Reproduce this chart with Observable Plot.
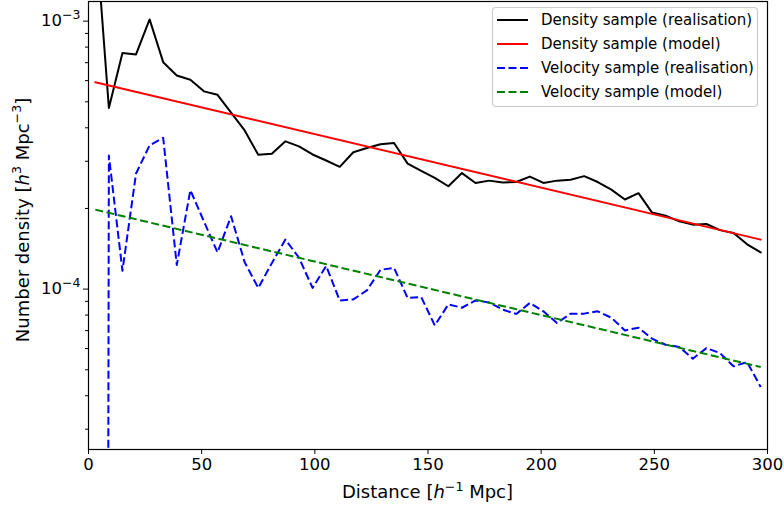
<!DOCTYPE html>
<html><head><meta charset="utf-8">
<script src="https://cdn.jsdelivr.net/npm/d3@7"></script>
<script src="https://cdn.jsdelivr.net/npm/@observablehq/plot@0.6"></script>
<style>
body{margin:0;background:#fff;}
#wrap{position:relative;width:784px;height:508px;font-family:"DejaVu Sans",sans-serif;}
#wrap svg{display:block;}
</style></head><body><div id="wrap"></div>
<script>
// ---- data ----
const distance = [3,9,15,21,27,33,39,45,51,57,63,69,75,81,87,93,99,105,111,117,123,129,135,141,147,153,159,165,171,177,183,189,195,201,207,213,219,225,231,237,243,249,255,261,267,273,279,285,291,297];
const densityRealisation = [2.26e-3,4.74e-4,7.60e-4,7.51e-4,1.015e-3,7.03e-4,6.27e-4,6.04e-4,5.47e-4,5.31e-4,4.56e-4,3.91e-4,3.17e-4,3.20e-4,3.56e-4,3.41e-4,3.18e-4,3.02e-4,2.86e-4,3.24e-4,3.36e-4,3.47e-4,3.51e-4,2.94e-4,2.76e-4,2.60e-4,2.42e-4,2.71e-4,2.49e-4,2.54e-4,2.50e-4,2.51e-4,2.63e-4,2.49e-4,2.54e-4,2.56e-4,2.64e-4,2.51e-4,2.35e-4,2.16e-4,2.28e-4,1.93e-4,1.88e-4,1.79e-4,1.74e-4,1.75e-4,1.66e-4,1.62e-4,1.47e-4,1.37e-4];
// first velocity bin is empty (zero) — shown as a tiny value on the log axis
const velocityRealisation = [1e-30,3.15e-4,1.17e-4,2.70e-4,3.44e-4,3.67e-4,1.23e-4,2.34e-4,1.79e-4,1.37e-4,1.87e-4,1.26e-4,1.01e-4,1.25e-4,1.53e-4,1.31e-4,1.01e-4,1.22e-4,9.07e-5,9.15e-5,9.89e-5,1.18e-4,1.20e-4,9.26e-5,9.34e-5,7.32e-5,8.77e-5,8.52e-5,9.07e-5,8.92e-5,8.38e-5,8.08e-5,8.88e-5,8.26e-5,7.47e-5,8.10e-5,8.10e-5,8.26e-5,7.82e-5,7.01e-5,7.18e-5,6.53e-5,6.20e-5,6.08e-5,5.50e-5,6.02e-5,5.77e-5,5.15e-5,5.34e-5,4.31e-5];
const modelDistance = [3, 297];
const densityModel = [5.92e-4, 1.53e-4];
const velocityModel = [1.98e-4, 5.12e-5];

const seriesNames = ["Density sample (realisation)","Density sample (model)","Velocity sample (realisation)","Velocity sample (model)"];
const seriesColors = ["black","red","blue","green"];
const seriesDashed = [false,false,true,true];

const xTicks = [0,50,100,150,200,250,300];
const yMajor = [1e-4, 1e-3];
const yMajorLabels = ["10^\u22124", "10^\u22123"];
const yMinor = [3e-5,4e-5,5e-5,6e-5,7e-5,8e-5,9e-5,2e-4,3e-4,4e-4,5e-4,6e-4,7e-4,8e-4,9e-4];

const TICK_FS = 16.5, LABEL_FS = 18, LEGEND_FS = 15;

// ---- build tables ----
const toRows = (xs, ys) => xs.map((x, i) => ({x, y: ys[i]}));
const seriesData = [
  toRows(distance, densityRealisation),
  toRows(modelDistance, densityModel),
  toRows(distance, velocityRealisation),
  toRows(modelDistance, velocityModel)
];
const DASH = "8,3.5";

const lineMarks = seriesData.map((rows, i) => Plot.line(rows, {
  x: "x", y: "y", stroke: seriesColors[i], strokeWidth: 2,
  strokeDasharray: seriesDashed[i] ? DASH : null,
  strokeLinecap: seriesDashed[i] ? "butt" : "round",
  strokeLinejoin: "round", clip: true
}));

const chart = Plot.plot({
  width: 784, height: 508,
  marginLeft: 88, marginRight: 17, marginTop: 1, marginBottom: 59,
  style: {fontFamily: "DejaVu Sans, sans-serif", fontSize: TICK_FS + "px", color: "black", background: "white", overflow: "visible"},
  x: {domain: [0, 300]},
  y: {type: "log", domain: [2.52e-5, 1.184e-3]},
  marks: [
    ...lineMarks,
    Plot.frame({stroke: "black", strokeWidth: 1.2}),
    Plot.axisX({ticks: xTicks, tickSize: 5, tickPadding: 3.5, label: null, fontSize: TICK_FS, tickFormat: d => String(d)}),
    Plot.axisY({ticks: yMajor, tickSize: 5, tickPadding: 3, label: null, fontSize: TICK_FS,
      tickFormat: d => yMajorLabels[yMajor.indexOf(d)]}),
    Plot.axisY({ticks: yMinor, tickSize: 3, label: null, tickFormat: () => ""})
  ]
});
document.getElementById("wrap").appendChild(chart);

const svg = d3.select(chart);

// y tick labels as 10 with a raised exponent (like mathtext)
svg.selectAll('g[aria-label="y-axis tick label"] text').each(function () {
  const s = this.textContent;
  if (!s || s.indexOf("^") < 0) return;
  const [b, e] = s.split("^");
  this.textContent = "";
  const t = d3.select(this);
  t.append("tspan").text(b);
  t.append("tspan").attr("font-size", 12.5).attr("dy", -7.5).text(e);
});

// ---- axis labels with italic h and superscripts ----
function supText(sel, parts) {
  parts.forEach(p => {
    const t = sel.append("tspan").text(p.t);
    if (p.i) t.attr("font-style", "italic");
    if (p.sup) t.attr("font-size", 12.6).attr("dy", -7.5);
    if (p.down) t.attr("dy", 7.5);
  });
}
const xl = svg.append("text").attr("x", (88 + 767) / 2).attr("y", 498)
  .attr("text-anchor", "middle").attr("font-size", LABEL_FS).attr("fill", "black");
supText(xl, [{t: "Distance ["}, {t: "h", i: true}, {t: "\u22121", sup: true}, {t: " Mpc]", down: true}]);

const yl = svg.append("text").attr("transform", "translate(28.5,220) rotate(-90)")
  .attr("text-anchor", "middle").attr("font-size", LABEL_FS).attr("fill", "black");
supText(yl, [{t: "Number density ["}, {t: "h", i: true}, {t: "3", sup: true}, {t: " Mpc", down: true}, {t: "\u22123", sup: true}, {t: "]", down: true}]);

// ---- legend (inside the axes, upper right) ----
const leg = d3.select("#wrap").append("svg")
  .attr("width", 268).attr("height", 102)
  .style("position", "absolute").style("left", "491px").style("top", "6px");
leg.append("rect").attr("x", 1.5).attr("y", 1.5).attr("width", 265).attr("height", 99)
  .attr("rx", 3.5).attr("fill", "white").attr("fill-opacity", 0.8)
  .attr("stroke", "#cccccc").attr("stroke-width", 1.2);
seriesNames.forEach((name, i) => {
  const cy = 14 + i * 24;
  leg.append("line").attr("x1", 6).attr("x2", 37).attr("y1", cy).attr("y2", cy)
    .attr("stroke", seriesColors[i]).attr("stroke-width", 2)
    .attr("stroke-dasharray", seriesDashed[i] ? DASH : null);
  leg.append("text").attr("x", 50).attr("y", cy).attr("dy", "0.36em")
    .attr("font-family", "DejaVu Sans, sans-serif").attr("font-size", LEGEND_FS).attr("fill", "black")
    .text(name);
});
</script></body></html>
